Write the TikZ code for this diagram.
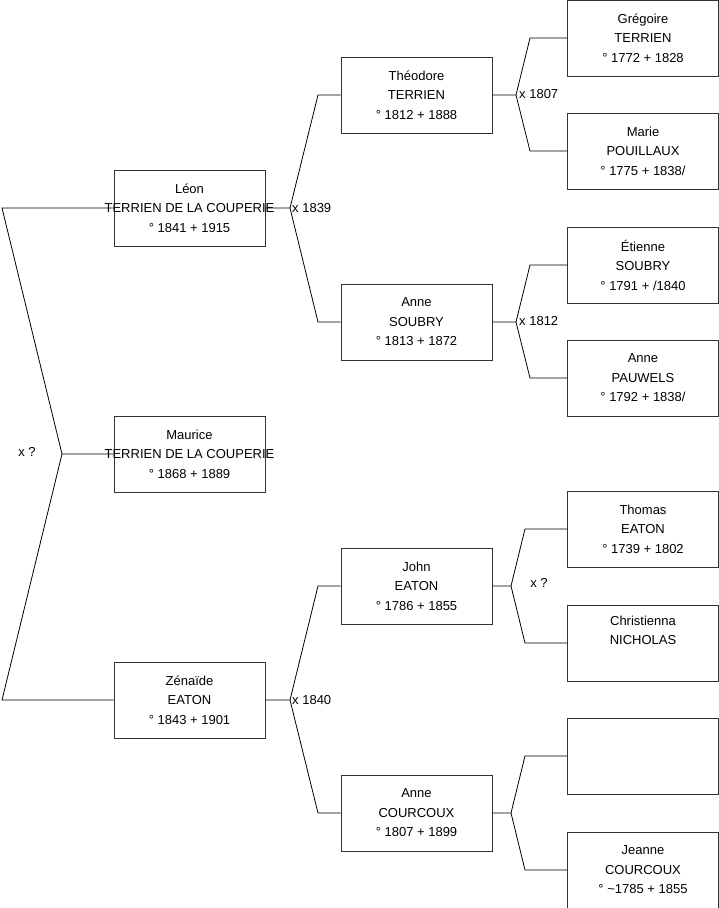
\documentclass[tikz,border=0pt]{standalone}
\usepackage{fontspec}
\setmainfont{Liberation Sans}
\begin{document}
\begin{tikzpicture}[x=1pt,y=-1pt,
  person/.style={draw=black!80,line width=0.9pt,minimum width=151pt,minimum height=76pt,inner sep=0pt,align=center,font=\fontsize{13}{19.5}\selectfont},
  link/.style={draw=black,line width=0.8pt},
  lbl/.style={inner sep=0pt,font=\fontsize{13}{19.5}\selectfont}]
\useasboundingbox (0,0) rectangle (719,908);
% generation 0/1 (left column)
\node[person] (leon) at (189.5,208) {Léon\\\makebox[0pt]{TERRIEN DE LA COUPERIE}\\° 1841 + 1915};
\node[person] (maurice) at (189.5,454) {Maurice\\\makebox[0pt]{TERRIEN DE LA COUPERIE}\\° 1868 + 1889};
\node[person] (zenaide) at (189.5,700) {Zénaïde\\EATON\\° 1843 + 1901};
% middle column
\node[person] (theodore) at (416.5,95) {Théodore\\TERRIEN\\° 1812 + 1888};
\node[person] (anneS) at (416.5,322) {Anne\\SOUBRY\\° 1813 + 1872};
\node[person] (john) at (416.5,586) {John\\EATON\\° 1786 + 1855};
\node[person] (anneC) at (416.5,813) {Anne\\COURCOUX\\° 1807 + 1899};
% right column
\node[person] (gregoire) at (643,38) {Grégoire\\TERRIEN\\° 1772 + 1828};
\node[person] (marie) at (643,151) {Marie\\POUILLAUX\\° 1775 + 1838/};
\node[person] (etienne) at (643,265) {Étienne\\SOUBRY\\° 1791 + /1840};
\node[person] (anneP) at (643,378) {Anne\\PAUWELS\\° 1792 + 1838/};
\node[person] (thomas) at (643,529) {Thomas\\EATON\\° 1739 + 1802};
\node[person] (christienna) at (643,643) {Christienna\\NICHOLAS\\\strut};
\node[person] (empty) at (643,756) {};
\node[person] (jeanne) at (643,870) {Jeanne\\COURCOUX\\° \raisebox{0pt}{\char"007E}1785 + 1855};
% fork coordinates
\coordinate (f0) at (62,454);
\coordinate (f0a) at (2,208);
\coordinate (f0b) at (2,700);
\coordinate (f1) at (290,208);
\coordinate (f1a) at (318,95);
\coordinate (f1b) at (318,322);
\coordinate (f2) at (290,700);
\coordinate (f2a) at (318,586);
\coordinate (f2b) at (318,813);
\coordinate (f3) at (516,95);
\coordinate (f3a) at (530,38);
\coordinate (f3b) at (530,151);
\coordinate (f4) at (516,322);
\coordinate (f4a) at (530,265);
\coordinate (f4b) at (530,378);
\coordinate (f5) at (511,586);
\coordinate (f5a) at (525,529);
\coordinate (f5b) at (525,643);
\coordinate (f6) at (511,813);
\coordinate (f6a) at (525,756);
\coordinate (f6b) at (525,870);
% connectors
\draw[link] (maurice.west) -- (f0) -- (f0a) -- (leon.west);
\draw[link] (f0) -- (f0b) -- (zenaide.west);
\draw[link] (leon.east) -- (f1) -- (f1a) -- (theodore.west);
\draw[link] (f1) -- (f1b) -- (anneS.west);
\draw[link] (zenaide.east) -- (f2) -- (f2a) -- (john.west);
\draw[link] (f2) -- (f2b) -- (anneC.west);
\draw[link] (theodore.east) -- (f3) -- (f3a) -- (gregoire.west);
\draw[link] (f3) -- (f3b) -- (marie.west);
\draw[link] (anneS.east) -- (f4) -- (f4a) -- (etienne.west);
\draw[link] (f4) -- (f4b) -- (anneP.west);
\draw[link] (john.east) -- (f5) -- (f5a) -- (thomas.west);
\draw[link] (f5) -- (f5b) -- (christienna.west);
\draw[link] (anneC.east) -- (f6) -- (f6a) -- (empty.west);
\draw[link] (f6) -- (f6b) -- (jeanne.west);
% marriage labels
\node[lbl] (m0) at (27,452) {x ?};
\node[lbl,anchor=west] (m1) at (292,208) {x 1839};
\node[lbl,anchor=west] (m2) at (292,700) {x 1840};
\node[lbl,anchor=west] (m3) at (519,94) {x 1807};
\node[lbl,anchor=west] (m4) at (519,321) {x 1812};
\node[lbl] (m5) at (539,583) {x ?};
\end{tikzpicture}
\end{document}
